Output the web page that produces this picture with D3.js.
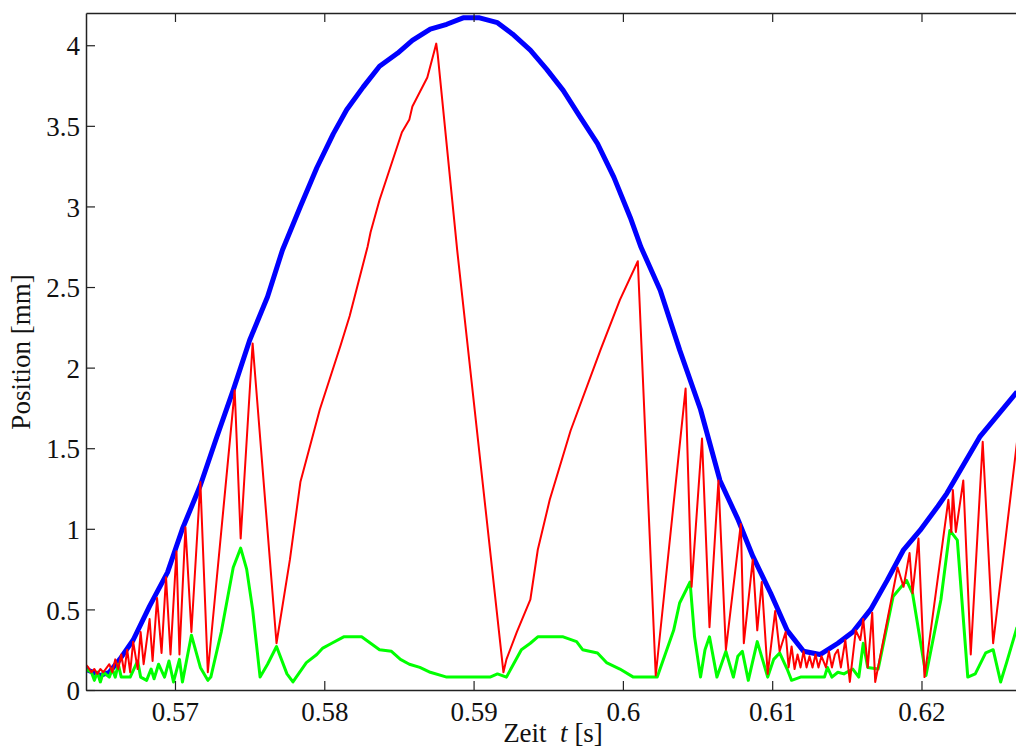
<!DOCTYPE html>
<html lang="de">
<head>
	<meta charset="UTF-8">
	<title>Position</title>
	<script src="https://cdn.jsdelivr.net/npm/d3@7"></script>
	<style>
		body{margin:0;background:#fff;}
		text{font-family:"Liberation Serif","Times New Roman",serif;fill:#111;}
	</style>
</head>
<body>
</body>
<script type="text/javascript">
// Zeitachse [s] und Positionen [mm]
var blueT = [0.5640,0.5650,0.5656,0.5663,0.5672,0.5683,0.5695,0.5705,0.5717,0.5728,0.5739,0.5750,0.5762,0.5772,0.5784,0.5795,0.5806,0.5815,0.5826,0.5837,0.5849,0.5859,0.5871,0.5882,0.5893,0.5904,0.5916,0.5926,0.5938,0.5949,0.5960,0.5971,0.5983,0.5994,0.6005,0.6012,0.6025,0.6038,0.6052,0.6065,0.6077,0.6087,0.6099,0.6110,0.6121,0.6132,0.6144,0.6154,0.6166,0.6177,0.6188,0.6199,0.6211,0.6217,0.6239,0.6264];
var blueY = [0.13,0.09,0.11,0.19,0.31,0.52,0.73,1.00,1.27,1.57,1.86,2.17,2.44,2.73,3.00,3.24,3.45,3.60,3.74,3.87,3.95,4.03,4.10,4.13,4.17,4.17,4.14,4.07,3.97,3.85,3.72,3.56,3.39,3.18,2.93,2.75,2.48,2.11,1.74,1.30,1.06,0.83,0.60,0.37,0.24,0.22,0.29,0.36,0.50,0.68,0.87,0.99,1.14,1.22,1.57,1.85];

var redT = [0.5640,0.5642,0.5644,0.5646,0.5648,0.5650,0.5652,0.5656,0.5658,0.5660,0.5662,0.5664,0.5666,0.5668,0.5670,0.5672,0.5675,0.5677,0.5679,0.5683,0.5685,0.5688,0.5691,0.5694,0.5697,0.5701,0.5703,0.5707,0.5711,0.5717,0.5722,0.5740,0.5744,0.5752,0.5768,0.5777,0.5784,0.5797,0.5811,0.5817,0.5829,0.5831,0.5837,0.5852,0.5857,0.5859,0.5869,0.5873,0.5875,0.5876,0.5889,0.5920,0.5922,0.5929,0.5938,0.5943,0.5951,0.5965,0.5985,0.5998,0.6010,0.6022,0.6042,0.6046,0.6053,0.6058,0.6064,0.6069,0.6079,0.6081,0.6087,0.6090,0.6093,0.6097,0.6102,0.6105,0.6109,0.6111,0.6113,0.6115,0.6117,0.6119,0.6121,0.6123,0.6125,0.6127,0.6129,0.6131,0.6133,0.6136,0.6138,0.6140,0.6142,0.6144,0.6146,0.6149,0.6152,0.6156,0.6159,0.6161,0.6164,0.6167,0.6169,0.6184,0.6188,0.6192,0.6194,0.6198,0.6202,0.6218,0.6220,0.6221,0.6223,0.6228,0.6233,0.6241,0.6248,0.6264];
var redY = [0.16,0.14,0.11,0.13,0.10,0.13,0.11,0.16,0.11,0.19,0.13,0.22,0.11,0.25,0.11,0.30,0.13,0.36,0.16,0.44,0.18,0.57,0.23,0.70,0.22,0.86,0.22,1.01,0.36,1.29,0.11,1.86,0.94,2.15,0.29,0.81,1.29,1.74,2.14,2.32,2.75,2.84,3.04,3.46,3.54,3.62,3.80,3.94,4.01,3.94,2.73,0.11,0.19,0.36,0.56,0.87,1.18,1.61,2.11,2.42,2.66,0.09,1.87,0.64,1.56,0.39,1.30,0.25,1.03,0.29,0.81,0.37,0.67,0.10,0.49,0.24,0.36,0.14,0.27,0.13,0.22,0.14,0.24,0.14,0.21,0.14,0.22,0.14,0.21,0.14,0.24,0.14,0.22,0.25,0.14,0.31,0.05,0.37,0.31,0.44,0.14,0.48,0.05,0.76,0.64,0.85,0.60,0.94,0.08,1.18,0.98,1.24,0.98,1.30,0.22,1.54,0.29,1.54];

var greenT = [0.5640,0.5644,0.5646,0.5648,0.5650,0.5652,0.5656,0.5658,0.5660,0.5662,0.5664,0.5670,0.5675,0.5677,0.5681,0.5684,0.5686,0.5689,0.5693,0.5696,0.5699,0.5703,0.5705,0.5711,0.5717,0.5722,0.5724,0.5731,0.5739,0.5744,0.5748,0.5752,0.5757,0.5762,0.5768,0.5775,0.5779,0.5788,0.5795,0.5799,0.5805,0.5813,0.5825,0.5831,0.5837,0.5845,0.5851,0.5857,0.5864,0.5871,0.5882,0.5911,0.5916,0.5922,0.5932,0.5938,0.5943,0.5960,0.5969,0.5973,0.5983,0.5989,0.5998,0.6007,0.6023,0.6034,0.6038,0.6045,0.6048,0.6052,0.6055,0.6058,0.6063,0.6069,0.6074,0.6077,0.6080,0.6084,0.6090,0.6097,0.6101,0.6105,0.6110,0.6113,0.6119,0.6135,0.6137,0.6140,0.6144,0.6148,0.6154,0.6158,0.6161,0.6164,0.6171,0.6181,0.6190,0.6194,0.6203,0.6213,0.6219,0.6224,0.6231,0.6236,0.6243,0.6248,0.6253,0.6257,0.6264];
var greenY = [0.13,0.11,0.06,0.11,0.05,0.11,0.08,0.13,0.08,0.16,0.08,0.08,0.18,0.08,0.06,0.13,0.07,0.16,0.08,0.18,0.05,0.19,0.05,0.34,0.14,0.06,0.08,0.36,0.76,0.88,0.75,0.50,0.08,0.16,0.27,0.10,0.05,0.17,0.22,0.26,0.29,0.33,0.33,0.29,0.25,0.24,0.19,0.16,0.14,0.11,0.08,0.08,0.10,0.08,0.25,0.29,0.33,0.33,0.30,0.25,0.23,0.17,0.13,0.08,0.08,0.37,0.54,0.67,0.33,0.08,0.25,0.33,0.08,0.24,0.08,0.21,0.24,0.06,0.30,0.08,0.19,0.23,0.13,0.06,0.08,0.08,0.14,0.08,0.11,0.10,0.13,0.08,0.29,0.14,0.13,0.58,0.68,0.60,0.09,0.56,0.99,0.93,0.08,0.10,0.23,0.25,0.05,0.17,0.39];

var xTicks = [0.57,0.58,0.59,0.6,0.61,0.62];
var yTicks = [0,0.5,1,1.5,2,2.5,3,3.5,4];

var width = 1016, height = 751;
var mLeft = 86, mTop = 13, mRight = 1016, mBottom = 690;

var svg = d3.select("body").append("svg").attr("width",width).attr("height",height);

var x = d3.scaleLinear().domain([0.56404,0.62633]).range([mLeft,mRight]);
var y = d3.scaleLinear().domain([0,4.2]).range([mBottom,mTop]);

svg.append("defs").append("clipPath").attr("id","plot")
	.append("rect").attr("x",mLeft).attr("y",mTop).attr("width",mRight-mLeft).attr("height",mBottom-mTop);

function pairs(ts,ys){ return ts.map(function(t,i){ return [t,ys[i]]; }); }
var line = d3.line().x(function(d){return x(d[0]);}).y(function(d){return y(d[1]);});

var g = svg.append("g").attr("clip-path","url(#plot)");
g.append("path").datum(pairs(blueT,blueY)).attr("d",line)
	.attr("fill","none").attr("stroke","#0000ff").attr("stroke-width",5).attr("stroke-linejoin","round");
g.append("path").datum(pairs(greenT,greenY)).attr("d",line)
	.attr("fill","none").attr("stroke","#00ff00").attr("stroke-width",3).attr("stroke-linejoin","round");
g.append("path").datum(pairs(redT,redY)).attr("d",line)
	.attr("fill","none").attr("stroke","#ff0000").attr("stroke-width",2).attr("stroke-linejoin","round");

// Achsen (Ticks nach innen)
var xAxis = svg.append("g").attr("transform","translate(0,"+mBottom+")")
	.call(d3.axisBottom(x).tickValues(xTicks).tickSize(-9).tickPadding(12).tickSizeOuter(0).tickFormat(d3.format("")));
var xTop = svg.append("g").attr("transform","translate(0,"+mTop+")")
	.call(d3.axisTop(x).tickValues(xTicks).tickSize(-9).tickSizeOuter(0).tickFormat(""));
var yAxis = svg.append("g").attr("transform","translate("+mLeft+",0)")
	.call(d3.axisLeft(y).tickValues(yTicks).tickSize(-9).tickPadding(6).tickSizeOuter(0).tickFormat(d3.format("")));

svg.selectAll(".domain").attr("stroke","#222").attr("stroke-width",1.5);
svg.selectAll(".tick line").attr("stroke","#222").attr("stroke-width",1.2);
svg.selectAll(".tick text").style("font-family","'Liberation Serif',serif").style("font-size","27px").attr("fill","#111");
yAxis.selectAll(".tick text").attr("dy","0.36em");

// Achsenbeschriftung
var xl = svg.append("text").attr("x",553).attr("y",742).attr("text-anchor","middle").style("font-size","27px");
xl.append("tspan").text("Zeit\u00a0\u00a0");
xl.append("tspan").attr("font-style","italic").text("t");
xl.append("tspan").text(" [s]");

svg.append("text").attr("transform","translate(30,352) rotate(-90)").attr("text-anchor","middle")
	.style("font-size","27px").text("Position [mm]");
</script>
</html>
